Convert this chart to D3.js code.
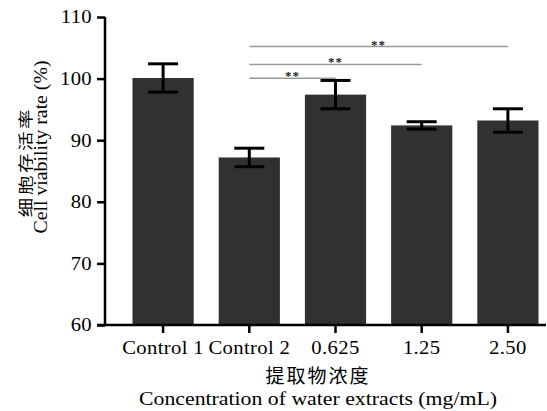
<!DOCTYPE html>
<html><head><meta charset="utf-8">
<script src="https://cdn.jsdelivr.net/npm/d3@7"></script>
<style>
html,body{margin:0;padding:0;background:#fff;}
svg{display:block;}
</style></head>
<body>
<svg id="chart" width="547" height="411"></svg>
<script>
const categories = ["Control 1", "Control 2", "0.625", "1.25", "2.50"];
const values = [100.1, 87.2, 97.4, 92.4, 93.2];
const errors = [2.3, 1.5, 2.3, 0.6, 1.9];
const yTicks = [60, 70, 80, 90, 100, 110];
const sigFrom = ["Control 2", "Control 2", "Control 2"];
const sigTo = ["2.50", "1.25", "0.625"];
const sigLevel = [105.2, 102.3, 100.05];
const sigLabel = ["**", "**", "**"];

const svg = d3.select("#chart");
const serif = "'Liberation Serif','Times New Roman',serif";
const cjk = "'Noto Sans CJK SC','Noto Sans CJK JP',sans-serif";
const stretch = 1.15;

const x = d3.scaleBand().domain(categories).range([120, 551]).paddingInner(0.29).paddingOuter(0.145);
const y = d3.scaleLinear().domain([60, 110]).range([325, 17]);

// bars
svg.append("g").selectAll("rect").data(categories).join("rect")
  .attr("x", d => x(d)).attr("width", x.bandwidth())
  .attr("y", (d, i) => y(values[i])).attr("height", (d, i) => y(60) - y(values[i]))
  .attr("fill", "#313131");

// error bars
const eb = svg.append("g").attr("stroke", "#000").attr("stroke-width", 3).attr("fill", "none");
categories.forEach((c, i) => {
  const cx = x(c) + x.bandwidth() / 2;
  const hi = y(values[i] + errors[i]), lo = y(values[i] - errors[i]);
  eb.append("line").attr("x1", cx).attr("x2", cx).attr("y1", hi).attr("y2", lo);
  eb.append("line").attr("x1", cx - 15).attr("x2", cx + 15).attr("y1", hi).attr("y2", hi);
  eb.append("line").attr("x1", cx - 15).attr("x2", cx + 15).attr("y1", lo).attr("y2", lo);
});

// y axis
const yAxis = d3.axisLeft(y).tickValues(yTicks).tickSize(8).tickPadding(5);
const yg = svg.append("g").attr("transform", "translate(105,0)").call(yAxis);
yg.select(".domain").attr("stroke", "#000").attr("stroke-width", 2.5).attr("d", `M0,${y(110)}V${y(60)}`);
yg.selectAll(".tick line").attr("stroke", "#000").attr("stroke-width", 2.5);
yg.selectAll(".tick text").attr("font-family", serif).attr("font-size", 18)
  .attr("letter-spacing", "0.3px").attr("fill", "#000")
  .attr("x", -13 / stretch).attr("dy", "0.33em").attr("transform", `scale(${stretch},1)`);

// x axis
const xAxis = d3.axisBottom(x).tickSize(8).tickPadding(8);
const xg = svg.append("g").attr("transform", `translate(0,${y(60)})`).call(xAxis);
xg.select(".domain").attr("stroke", "#000").attr("stroke-width", 2.5).attr("d", "M97,0H546");
xg.selectAll(".tick line").attr("stroke", "#000").attr("stroke-width", 2.5);
xg.selectAll(".tick text").attr("font-family", serif).attr("font-size", 18)
  .attr("letter-spacing", "0.3px").attr("fill", "#000")
  .attr("y", 29).attr("dy", 0).attr("transform", `scale(${stretch},1)`);

// significance
const sg = svg.append("g");
sigFrom.forEach((f, i) => {
  const x1 = x(f) + x.bandwidth() / 2, x2 = x(sigTo[i]) + x.bandwidth() / 2;
  const yy = y(sigLevel[i]);
  sg.append("line").attr("x1", x1).attr("x2", x2).attr("y1", yy).attr("y2", yy)
    .attr("stroke", "#9a9a9a").attr("stroke-width", 1.5);
  sg.append("text").attr("x", (x1 + x2) / 2).attr("y", yy + 2)
    .attr("text-anchor", "middle").attr("font-family", serif).attr("font-weight", "bold")
    .attr("font-size", 13).attr("letter-spacing", "1px").attr("fill", "#222").text(sigLabel[i]);
});

// y title
svg.append("text").attr("transform", "translate(31,162) rotate(-90) scale(1.3,1)").attr("text-anchor", "middle")
  .attr("font-family", cjk).attr("font-size", 15).attr("letter-spacing", "2px").attr("fill", "#000").text("细胞存活率");
svg.append("text").attr("transform", "translate(46.5,147) rotate(-90)").attr("text-anchor", "middle")
  .attr("font-family", serif).attr("font-size", 18).attr("textLength", 173).attr("lengthAdjust", "spacingAndGlyphs")
  .attr("fill", "#000").text("Cell viability rate (%)");

// x title
svg.append("text").attr("x", 318).attr("y", 383).attr("text-anchor", "middle")
  .attr("font-family", cjk).attr("font-size", 19).attr("letter-spacing", "2px").attr("fill", "#000").text("提取物浓度");
svg.append("text").attr("x", 318).attr("y", 405).attr("text-anchor", "middle")
  .attr("font-family", serif).attr("font-size", 18).attr("textLength", 358).attr("lengthAdjust", "spacingAndGlyphs")
  .attr("fill", "#000").text("Concentration of water extracts (mg/mL)");
</script>
</body></html>
